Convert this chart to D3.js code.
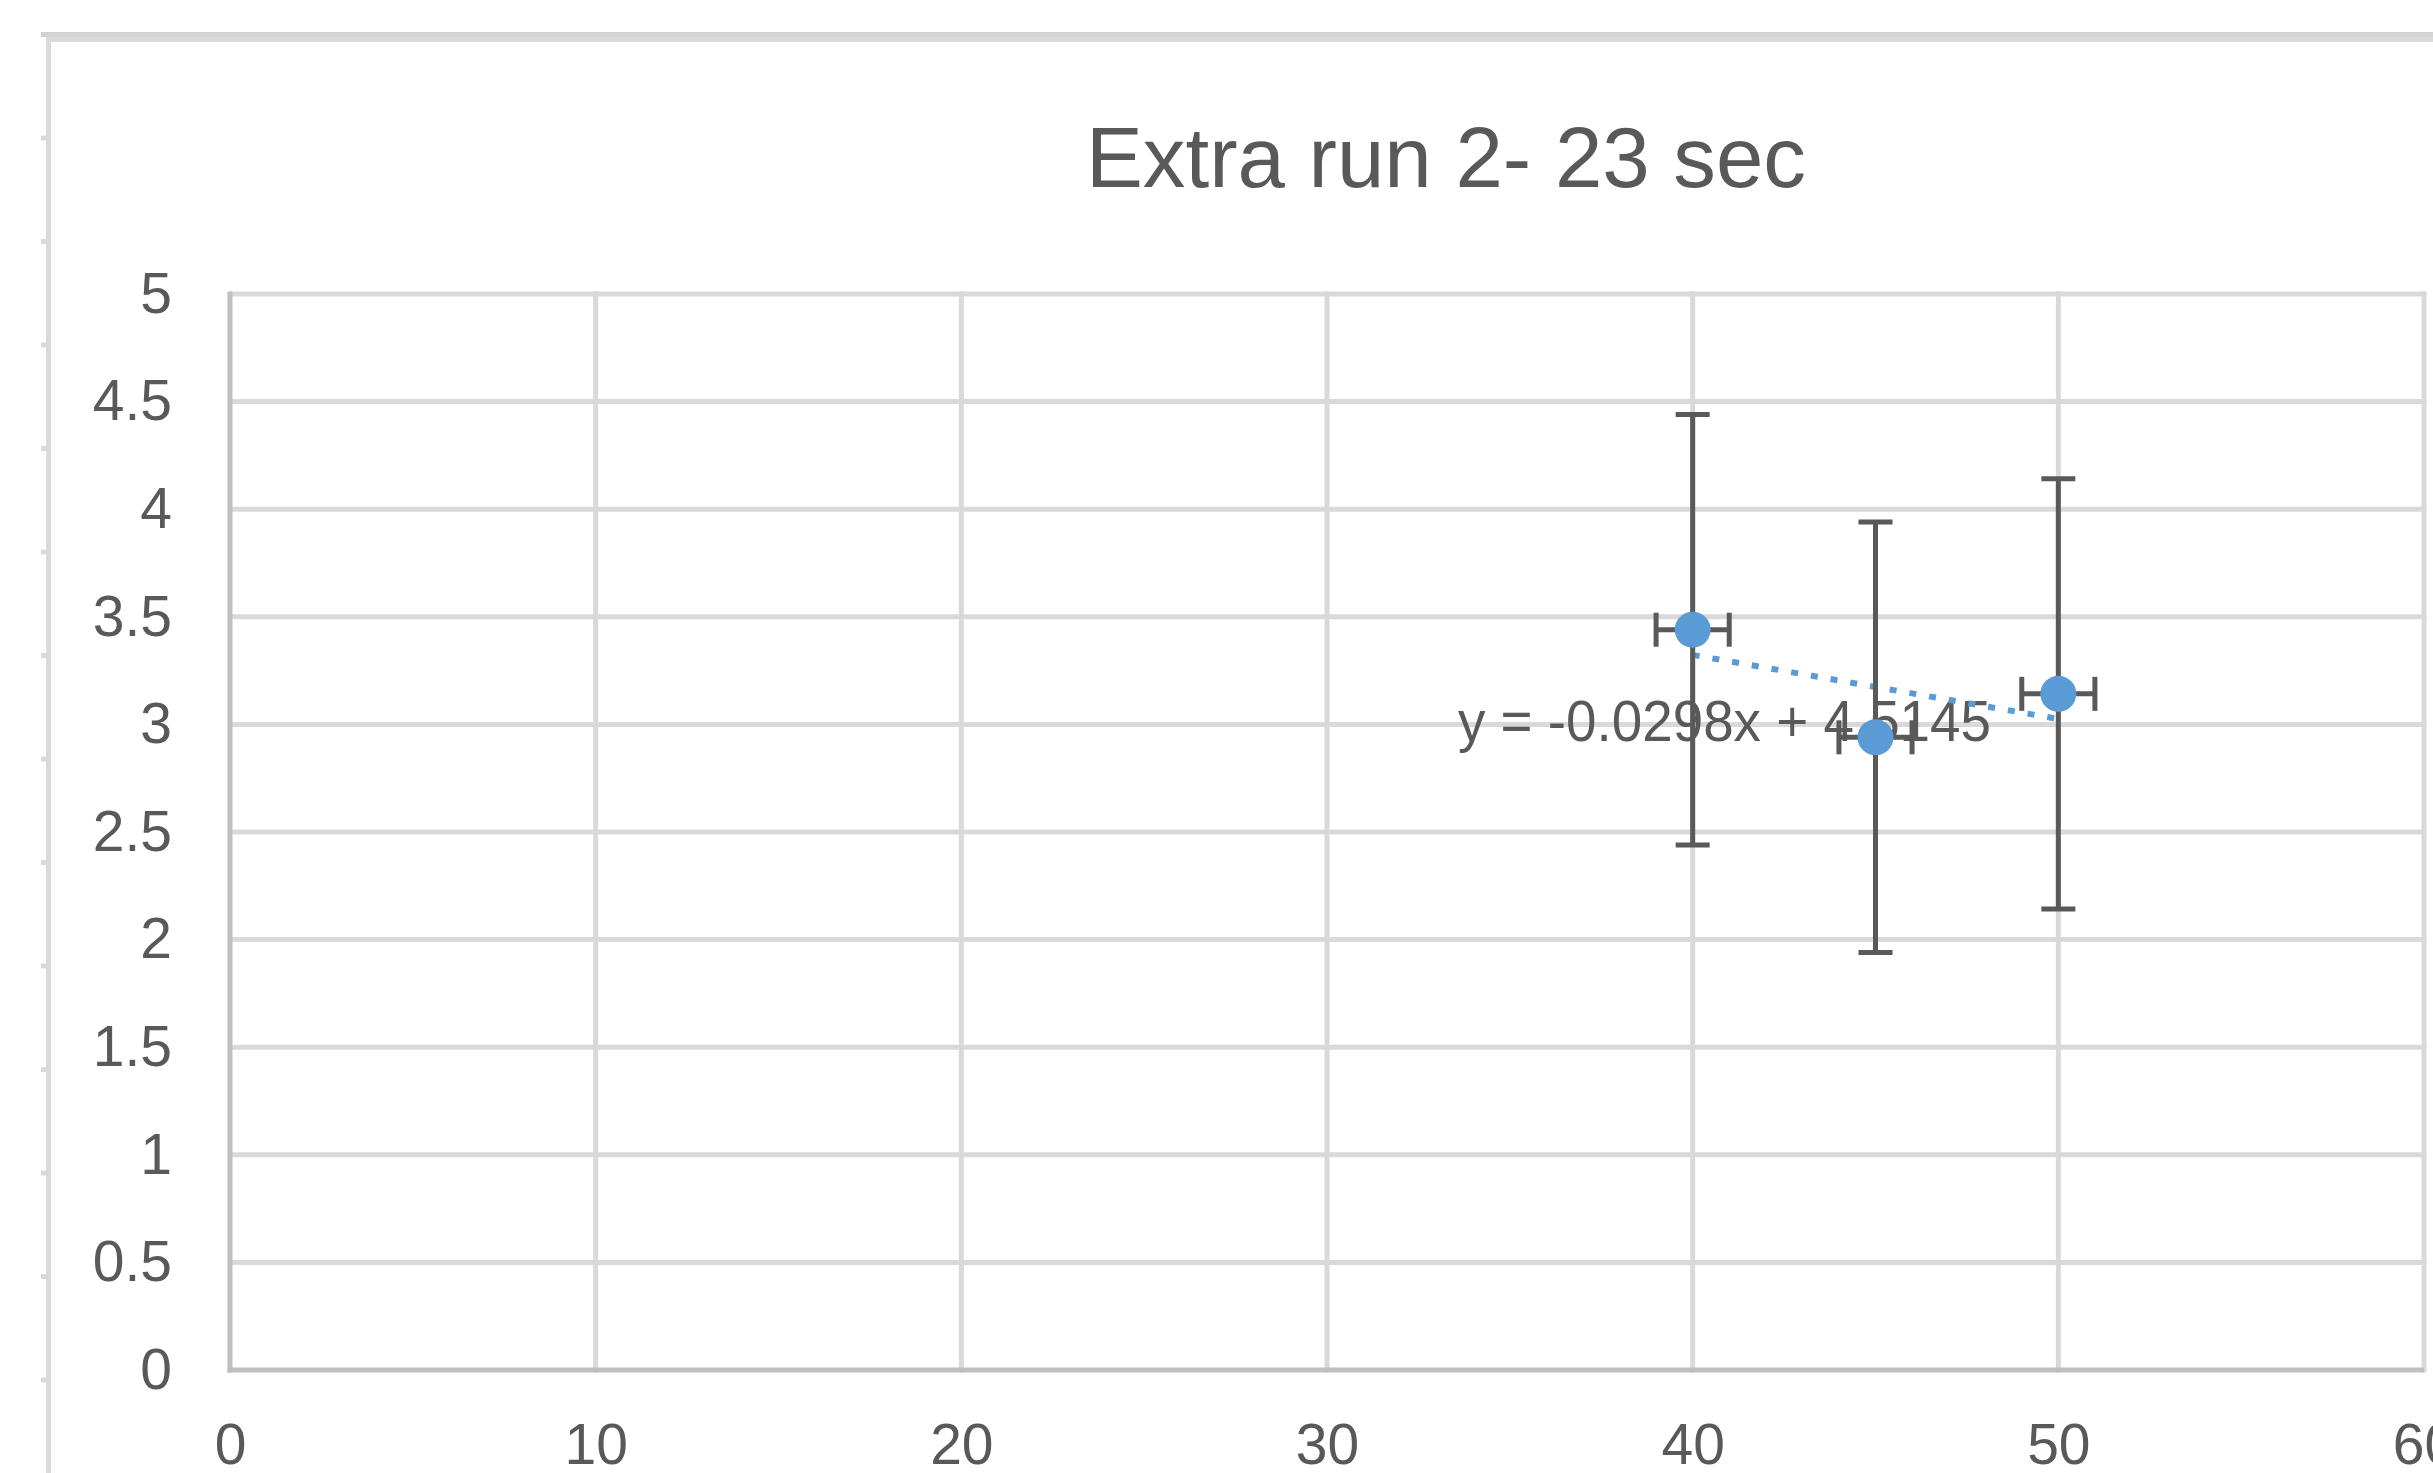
<!DOCTYPE html>
<html>
<head>
  <meta charset="UTF-8">
  <style>
    body { margin: 0; background: #fff; }
    svg { display: block; }
    text { font-family: "Liberation Sans", Arial, sans-serif; fill: #595959; }
  </style>
</head>
<body>
<svg></svg>
<script src="https://d3js.org/d3.v7.min.js"></script>

<script>

// chart data
const chartTitle = "Extra run 2- 23 sec";
const xValues = [40, 45, 50];
const yValues = [3.44, 2.94, 3.142];
const xErrors = [1, 1, 1];
const yErrors = [1, 1, 1];
const xTicks = [0, 10, 20, 30, 40, 50, 60];
const yTicks = [0, 0.5, 1, 1.5, 2, 2.5, 3, 3.5, 4, 4.5, 5];
const trendLabel = "y = -0.0298x + 4.5145";

let width = 2433, height = 1473;

let svg = d3.select("svg")
    .attr("width", width)
    .attr("height", height)
    .attr("viewBox", "0 0 " + width + " " + height);

let points = xValues.map((d, i) => ({x: d, y: yValues[i], ex: xErrors[i], ey: yErrors[i]}));

let x = d3.scaleLinear().domain([0, 60]).range([230, 2424]);
let y = d3.scaleLinear().domain([0, 5]).range([1370, 294]);

// chart area border (left + top), plus the little sheet marks on the left
svg.append("line").attr("x1", 41).attr("x2", width).attr("y1", 34.5).attr("y2", 34.5)
    .style("stroke", "#d2d2d2").style("stroke-width", 5);
svg.append("line").attr("x1", 46).attr("x2", width).attr("y1", 39.5).attr("y2", 39.5)
    .style("stroke", "#d9d9d9").style("stroke-width", 5);
svg.append("line").attr("x1", 48.5).attr("x2", 48.5).attr("y1", 37).attr("y2", height)
    .style("stroke", "#d9d9d9").style("stroke-width", 5);
svg.append("g").selectAll("line")
    .data(d3.range(138, height, 103.5))
    .enter().append("line")
    .attr("x1", 41).attr("x2", 46)
    .attr("y1", d => d).attr("y2", d => d)
    .style("stroke", "#d9d9d9").style("stroke-width", 5);

// gridlines
svg.append("g").selectAll("line")
    .data(yTicks.filter(d => d > 0))
    .enter().append("line")
    .attr("x1", x(0)).attr("x2", x(60) + 2.5)
    .attr("y1", d => y(d)).attr("y2", d => y(d))
    .style("stroke", "#d9d9d9").style("stroke-width", 5);

svg.append("g").selectAll("line")
    .data(xTicks.filter(d => d > 0))
    .enter().append("line")
    .attr("x1", d => x(d)).attr("x2", d => x(d))
    .attr("y1", y(5) - 2.5).attr("y2", y(0) + 2.5)
    .style("stroke", "#d9d9d9").style("stroke-width", 5);

// axis lines
svg.append("line").attr("x1", x(0)).attr("x2", x(0)).attr("y1", y(5) - 2.5).attr("y2", y(0) + 2.5)
    .style("stroke", "#bfbfbf").style("stroke-width", 5);
svg.append("line").attr("x1", x(0) - 2.5).attr("x2", x(60)).attr("y1", y(0)).attr("y2", y(0))
    .style("stroke", "#bfbfbf").style("stroke-width", 5);

// tick labels
let yAxis = svg.append("g")
    .attr("transform", "translate(" + x(0) + ",0)")
    .call(d3.axisLeft(y).tickValues(yTicks).tickSize(0).tickPadding(58).tickFormat(d => String(d)));
let xAxis = svg.append("g")
    .attr("transform", "translate(0," + y(0) + ")")
    .call(d3.axisBottom(x).tickValues(xTicks).tickSize(0).tickPadding(54).tickFormat(d => String(d)));

[yAxis, xAxis].forEach(a => {
    a.select(".domain").remove();
    a.selectAll("text")
        .style("font-size", "57px")
        .style("font-family", "'Liberation Sans', Arial, sans-serif")
        .attr("fill", "#595959");
});

// title
svg.append("text")
    .attr("x", 1086)
    .attr("y", 187)
    .attr("textLength", 720)
    .attr("lengthAdjust", "spacingAndGlyphs")
    .style("font-size", "86px")
    .text(chartTitle);

// trendline equation label (sits under the marks)
svg.append("text")
    .attr("x", 1458)
    .attr("y", 741)
    .attr("textLength", 533)
    .attr("lengthAdjust", "spacingAndGlyphs")
    .style("font-size", "58px")
    .text(trendLabel);

// linear trendline (least squares)
let mx = d3.mean(points, d => d.x), my = d3.mean(points, d => d.y);
let slope = d3.sum(points, d => (d.x - mx) * (d.y - my)) / d3.sum(points, d => (d.x - mx) * (d.x - mx));
let intercept = my - slope * mx;
let x0 = d3.min(xValues), x1 = d3.max(xValues);

svg.append("line")
    .attr("x1", x(x0)).attr("y1", y(intercept + slope * x0))
    .attr("x2", x(x1)).attr("y2", y(intercept + slope * x1))
    .style("stroke", "#5b9bd5")
    .style("stroke-width", 6)
    .style("stroke-dasharray", "7,13");

// error bars
let cap = 17;
let err = svg.append("g").selectAll("g")
    .data(points)
    .enter().append("g")
    .style("stroke", "#595959")
    .style("stroke-width", 5);

err.append("line")
    .attr("x1", d => x(d.x)).attr("x2", d => x(d.x))
    .attr("y1", d => y(d.y + d.ey)).attr("y2", d => y(d.y - d.ey));
err.append("line")
    .attr("x1", d => x(d.x) - cap).attr("x2", d => x(d.x) + cap)
    .attr("y1", d => y(d.y + d.ey)).attr("y2", d => y(d.y + d.ey));
err.append("line")
    .attr("x1", d => x(d.x) - cap).attr("x2", d => x(d.x) + cap)
    .attr("y1", d => y(d.y - d.ey)).attr("y2", d => y(d.y - d.ey));
err.append("line")
    .attr("x1", d => x(d.x - d.ex)).attr("x2", d => x(d.x + d.ex))
    .attr("y1", d => y(d.y)).attr("y2", d => y(d.y));
err.append("line")
    .attr("x1", d => x(d.x - d.ex)).attr("x2", d => x(d.x - d.ex))
    .attr("y1", d => y(d.y) - cap).attr("y2", d => y(d.y) + cap);
err.append("line")
    .attr("x1", d => x(d.x + d.ex)).attr("x2", d => x(d.x + d.ex))
    .attr("y1", d => y(d.y) - cap).attr("y2", d => y(d.y) + cap);

// markers
svg.append("g").selectAll("circle")
    .data(points)
    .enter().append("circle")
    .attr("cx", d => x(d.x))
    .attr("cy", d => y(d.y))
    .attr("r", 18)
    .style("fill", "#5b9bd5");

</script>

</body>
</html>
